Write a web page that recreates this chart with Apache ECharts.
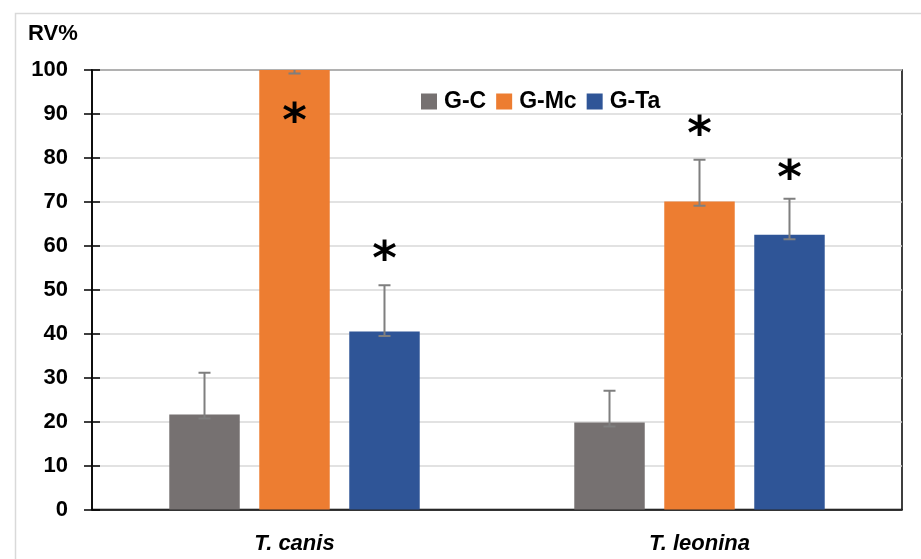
<!DOCTYPE html>
<html>
<head>
<meta charset="utf-8">
<script src="https://cdn.jsdelivr.net/npm/echarts@6/dist/echarts.min.js"></script>
<style>html,body{margin:0;padding:0;background:#fff;}#c{width:921px;height:559px;}</style>
</head>
<body>
<div id="c"></div>
<script>
var categories = ['T. canis', 'T. leonina'];
var seriesNames = ['G-C', 'G-Mc', 'G-Ta'];
var colors = ['#767171', '#ED7D31', '#2F5597'];
var valGC = [21.6, 19.8];
var valGMc = [100, 70.1];
var valGTa = [40.5, 62.5];
var lowGC = [20.7, 18.9];
var lowGMc = [99.2, 69.1];
var lowGTa = [39.5, 61.5];
var highGC = [31.1, 27.0];
var highGMc = [101, 79.6];
var highGTa = [51.0, 70.7];
var starGC = [null, null];
var starGMc = [90.6, 87.5];
var starGTa = [59.0, 77.6];
var yTicks = [0, 10, 20, 30, 40, 50, 60, 70, 80, 90, 100];

var values = [valGC, valGMc, valGTa];
var lows = [lowGC, lowGMc, lowGTa];
var highs = [highGC, highGMc, highGTa];
var stars = [starGC, starGMc, starGTa];

var BAR_W = 0.174, BAR_GAP = 0.277;
var FONT = '"Liberation Sans", Arial, sans-serif';

var chart = echarts.init(document.getElementById('c'));
var series = [];
seriesNames.forEach(function (name, i) {
  series.push({
    name: name,
    type: 'bar',
    data: values[i],
    barWidth: (BAR_W * 100) + '%',
    barGap: (BAR_GAP * 100) + '%',
    itemStyle: { color: colors[i] },
    xAxisIndex: 0, yAxisIndex: 0,
    z: 2
  });
});
seriesNames.forEach(function (name, i) {
  var d = categories.map(function (c, k) { return [k, lows[i][k], highs[i][k]]; });
  series.push({
    type: 'custom',
    xAxisIndex: 0, yAxisIndex: 0,
    clip: true,
    z: 5,
    data: d,
    renderItem: function (params, api) {
      var k = api.value(0);
      var band = api.size([1, 0])[0];
      var bw = band * BAR_W;
      var off = (i - 1) * bw * (1 + BAR_GAP);
      var pLow = api.coord([k, api.value(1)]);
      var pHigh = api.coord([k, api.value(2)]);
      var x = pLow[0] + off;
      var cap = 6;
      var st = { stroke: '#7f7f7f', lineWidth: 2 };
      var children = [
        { type: 'line', shape: { x1: x, y1: pLow[1], x2: x, y2: pHigh[1] }, style: st },
        { type: 'line', shape: { x1: x - cap, y1: pLow[1], x2: x + cap, y2: pLow[1] }, style: st },
        { type: 'line', shape: { x1: x - cap, y1: pHigh[1], x2: x + cap, y2: pHigh[1] }, style: st }
      ];
      var s = stars[i][k];
      if (s != null) {
        var ps = api.coord([k, s]);
        children.push({
          type: 'text',
          style: { text: '*', x: x, y: ps[1] + 12, align: 'center', verticalAlign: 'middle',
                   font: 'bold 47px "DejaVu Sans", sans-serif', fill: '#000' }
        });
      }
      return { type: 'group', children: children };
    }
  });
});

chart.setOption({
  animation: false,
  backgroundColor: '#fff',
  graphic: [
    { type: 'rect', left: 13, top: 11, shape: { width: 1000, height: 1000 },
      style: { fill: 'none', stroke: '#d9d9d9', lineWidth: 1.5 }, z: -1 },
    { type: 'text', left: 28, top: 23, style: { text: 'RV%', font: 'bold 22px ' + FONT, fill: '#000' } }
  ],
  legend: {
    data: seriesNames,
    left: 416, top: 85,
    itemWidth: 16, itemHeight: 16, itemGap: 10,
    icon: 'rect',
    textStyle: { fontFamily: FONT, fontWeight: 'bold', fontSize: 23, color: '#000', padding: [0, 0, 0, 2] }
  },
  grid: { left: 92, right: 19, top: 70, bottom: 49.5, show: true, borderColor: '#000', borderWidth: 1.5 },
  xAxis: [{
    type: 'category',
    data: categories,
    axisLine: { lineStyle: { color: '#000', width: 1.5 } },
    axisTick: { alignWithLabel: true, length: 7, lineStyle: { color: '#000', width: 1.5 } },
    axisLabel: { margin: 23, fontFamily: FONT, fontWeight: 'bold', fontStyle: 'italic', fontSize: 22, color: '#000' }
  }],
  yAxis: [{
    type: 'value', min: 0, max: 100, interval: 10,
    axisLine: { show: true, lineStyle: { color: '#000', width: 1.5 } },
    axisTick: { show: true, length: 8, lineStyle: { color: '#000', width: 1.5 } },
    axisLabel: { margin: 24, fontFamily: FONT, fontWeight: 'bold', fontSize: 22, color: '#000',
      formatter: function (v) { return yTicks.indexOf(v) >= 0 ? String(v) : ''; } },
    splitLine: { lineStyle: { color: '#d9d9d9', width: 1.5 } }
  }, {
    type: 'value', min: 0, max: 100, interval: 10, position: 'left',
    axisLine: { show: false },
    axisTick: { show: true, inside: true, length: 8, lineStyle: { color: '#000', width: 1.5 } },
    axisLabel: { show: false },
    splitLine: { show: false }
  }],
  series: series
});
</script>
</body>
</html>
